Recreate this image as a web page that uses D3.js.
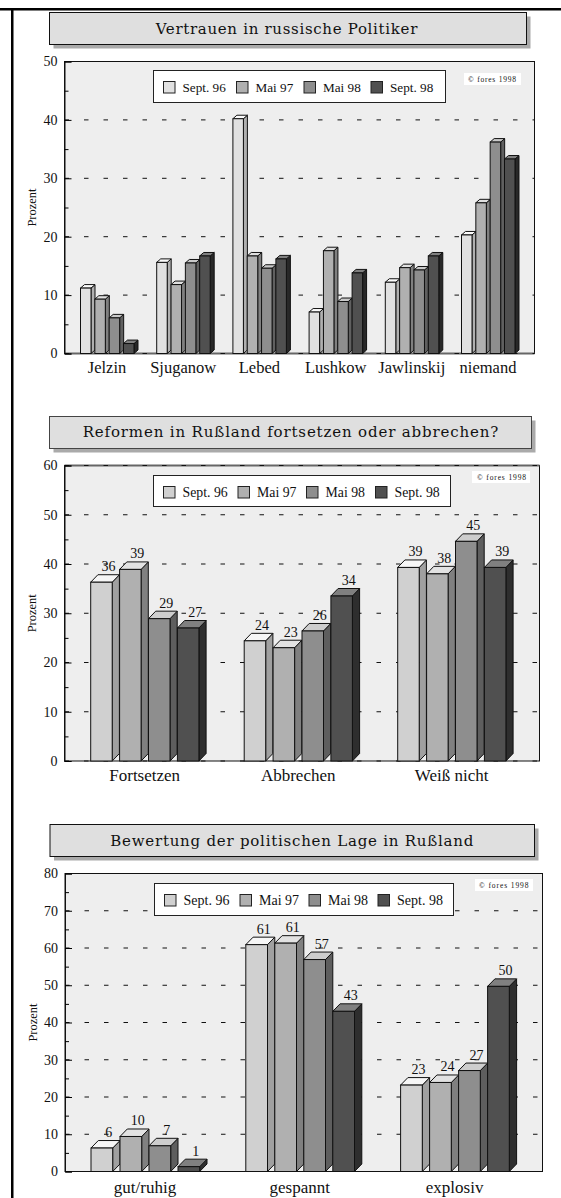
<!DOCTYPE html>
<html>
<head>
<meta charset="utf-8">
<script src="https://cdn.jsdelivr.net/npm/d3@7"></script>
<style>
    body { margin: 0; background: #fff; }
    svg { display: block; }
    text { font-family: "Liberation Serif", serif; fill: #111; }
</style>
</head>
<body>
<svg id="chart"></svg>
<script>
const seriesNames = ["Sept. 96", "Mai 97", "Mai 98", "Sept. 98"];

// Vertrauen in russische Politiker
const vertrauenCategories = ["Jelzin", "Sjuganow", "Lebed", "Lushkow", "Jawlinskij", "niemand"];
const vertrauenValues = [
    [11.2, 9.3, 6.1, 1.7],
    [15.6, 11.8, 15.5, 16.7],
    [40.2, 16.7, 14.6, 16.2],
    [7.1, 17.6, 8.9, 13.8],
    [12.2, 14.7, 14.3, 16.7],
    [20.3, 25.8, 36.2, 33.3]
];
const vertrauenTicks = [0, 10, 20, 30, 40, 50];

// Reformen in Rußland
const reformenCategories = ["Fortsetzen", "Abbrechen", "Weiß nicht"];
const reformenValues = [
    [36.3, 38.9, 28.9, 27.0],
    [24.4, 23.0, 26.4, 33.5],
    [39.3, 38.0, 44.6, 39.3]
];
const reformenLabels = [
    [36, 39, 29, 27],
    [24, 23, 26, 34],
    [39, 38, 45, 39]
];
const reformenTicks = [0, 10, 20, 30, 40, 50, 60];

// Bewertung der politischen Lage
const lageCategories = ["gut/ruhig", "gespannt", "explosiv"];
const lageValues = [
    [6.3, 9.4, 6.9, 1.3],
    [60.9, 61.3, 56.9, 43.0],
    [23.2, 23.9, 27.1, 49.7]
];
const lageLabels = [
    [6, 10, 7, 1],
    [61, 61, 57, 43],
    [23, 24, 27, 50]
];
const lageTicks = [0, 10, 20, 30, 40, 50, 60, 70, 80];

const svg = d3.select("#chart").attr("width", 561).attr("height", 1198);

svg.append("rect").attr("width", 561).attr("height", 1198).attr("fill", "#fff");

// Bar colours: front, top, side
const paletteLight = [
    ["#e1e1e1", "#fcfcfc", "#b0b0b0"],
    ["#b0b0b0", "#e0e0e0", "#808080"],
    ["#8e8e8e", "#cacaca", "#606060"],
    ["#505050", "#808080", "#282828"]
];
const paletteDark = [
    ["#d0d0d0", "#f6f6f6", "#a0a0a0"],
    ["#b0b0b0", "#e2e2e2", "#808080"],
    ["#8e8e8e", "#cdcdcd", "#5e5e5e"],
    ["#505050", "#808080", "#2e2e2e"]
];

function drawPanel(p) {
    const g = svg.append("g");

    // Title box with shadow
    g.append("rect")
        .attr("x", p.title.x0 + 4).attr("y", p.title.y0 + 4)
        .attr("width", p.title.x1 - p.title.x0).attr("height", p.title.y1 - p.title.y0)
        .attr("fill", "#aaa");
    g.append("rect")
        .attr("x", p.title.x0).attr("y", p.title.y0)
        .attr("width", p.title.x1 - p.title.x0).attr("height", p.title.y1 - p.title.y0)
        .attr("fill", "#dfdfdf")
        .attr("stroke", p.title.stroke);
    g.append("text")
        .attr("x", p.title.tx0)
        .attr("y", p.title.base)
        .attr("textLength", p.title.tx1 - p.title.tx0)
        .style("font-family", "'DejaVu Serif', serif")
        .style("font-size", "15px")
        .text(p.title.text);

    const y = d3.scaleLinear()
        .domain(d3.extent(p.ticks))
        .range([p.bottom, p.top]);

    // Plot background
    g.append("rect")
        .attr("x", p.left).attr("y", p.top)
        .attr("width", p.right - p.left).attr("height", p.bottom - p.top)
        .attr("fill", "#eeeeee")
        .attr("stroke", "#111");

    // Heavier grey edge where the scan shows one
    if (p.heavyEdge !== undefined) {
        g.append("line")
            .attr("x1", p.left).attr("x2", p.right)
            .attr("y1", y(p.heavyEdge)).attr("y2", y(p.heavyEdge))
            .attr("stroke", "#666")
            .attr("stroke-width", 2);
    }

    // Dashed gridlines
    g.selectAll(".grid")
        .data(p.ticks)
        .join("line")
        .attr("x1", p.left).attr("x2", p.right)
        .attr("y1", d => y(d)).attr("y2", d => y(d))
        .attr("stroke", "#111")
        .attr("stroke-dasharray", "4.5 15");

    // Y axis, major and minor ticks point inwards
    const yAxis = g.append("g")
        .attr("transform", `translate(${p.left},0)`)
        .call(d3.axisLeft(y).tickValues(p.ticks).tickSize(-7).tickPadding(7));
    yAxis.select(".domain").attr("stroke", "#111");
    yAxis.selectAll("text")
        .style("font-family", "'Liberation Serif', serif")
        .style("font-size", "14px");

    const minor = d3.range(5, d3.max(p.ticks), 10);
    const minorAxis = g.append("g")
        .attr("transform", `translate(${p.left},0)`)
        .call(d3.axisLeft(y).tickValues(minor).tickSize(-4).tickFormat(""));
    minorAxis.select(".domain").remove();

    g.append("text")
        .attr("transform", `translate(${p.yTitleX},${(p.top + p.bottom) / 2}) rotate(-90)`)
        .attr("text-anchor", "middle")
        .style("font-size", "12.5px")
        .text("Prozent");

    // Legend
    g.append("rect")
        .attr("x", p.legend.x0).attr("y", p.legend.y0)
        .attr("width", p.legend.x1 - p.legend.x0).attr("height", p.legend.y1 - p.legend.y0)
        .attr("fill", "#fff")
        .attr("stroke", "#222");
    seriesNames.forEach((name, i) => {
        g.append("rect")
            .attr("x", p.legend.items[i]).attr("y", p.legend.swatchY)
            .attr("width", 11.5).attr("height", 11.5)
            .attr("fill", p.palette[i][0])
            .attr("stroke", "#222");
        g.append("text")
            .attr("x", p.legend.items[i] + 19)
            .attr("y", p.legend.swatchY + 10.5)
            .style("font-size", p.legend.fontSize)
            .text(name);
    });

    // Copyright note
    g.append("rect")
        .attr("x", p.note.x0).attr("y", p.note.y0)
        .attr("width", p.note.x1 - p.note.x0).attr("height", 12)
        .attr("fill", "#fff");
    g.append("text")
        .attr("x", p.note.tx0)
        .attr("y", p.note.y0 + 9)
        .attr("textLength", p.note.tx1 - p.note.tx0)
        .style("font-size", "7.5px")
        .text("© fores 1998");

    // Bars
    const x = d3.scaleBand()
        .domain(p.categories)
        .range([p.groupStart, p.groupStart + p.groupStep * p.categories.length]);
    const xBar = d3.scaleBand()
        .domain(seriesNames)
        .range([0, p.barStep * seriesNames.length]);

    p.categories.forEach((cat, c) => {
        seriesNames.forEach((name, i) => {
            const value = p.values[c][i];
            const x0 = x(cat) + xBar(name);
            const x1 = x0 + p.barWidth;
            const yTop = y(value);
            const yBase = y(0);
            const colors = p.palette[i];

            g.append("path")
                .attr("d", `M${x1},${yBase}L${x1 + p.depth},${yBase - p.rise}L${x1 + p.depth},${yTop - p.rise}L${x1},${yTop}Z`)
                .attr("fill", colors[2])
                .attr("stroke", "#111");
            g.append("path")
                .attr("d", `M${x0},${yTop}L${x0 + p.depth},${yTop - p.rise}L${x1 + p.depth},${yTop - p.rise}L${x1},${yTop}Z`)
                .attr("fill", colors[1])
                .attr("stroke", "#111");
            g.append("rect")
                .attr("x", x0).attr("y", yTop)
                .attr("width", p.barWidth).attr("height", yBase - yTop)
                .attr("fill", colors[0])
                .attr("stroke", "#111");

            if (p.labels) {
                g.append("text")
                    .attr("x", x0 + p.barWidth / 2 + 7)
                    .attr("y", yTop - 11)
                    .attr("text-anchor", "middle")
                    .style("font-size", "14px")
                    .text(p.labels[c][i]);
            }
        });

        g.append("text")
            .attr("x", x(cat) + p.catOffset)
            .attr("y", p.catBase)
            .attr("text-anchor", "middle")
            .style("font-size", p.catSize)
            .text(cat);
    });
}

drawPanel({
    title: { text: "Vertrauen in russische Politiker", x0: 49.5, x1: 526.5, y0: 12.5, y1: 44.5, tx0: 155.7, tx1: 417.3, base: 34, stroke: "#111" },
    categories: vertrauenCategories, values: vertrauenValues, ticks: vertrauenTicks,
    palette: paletteLight, heavyEdge: 0,
    left: 64.5, right: 534.5, top: 61.5, bottom: 353.5,
    yTitleX: 36,
    legend: { x0: 153.5, x1: 445.5, y0: 70.5, y1: 102.5, swatchY: 81.5, items: [163.5, 236.5, 304, 371], fontSize: "13.2px" },
    note: { x0: 464, x1: 521, y0: 73, tx0: 468, tx1: 516 },
    groupStart: 80.5, groupStep: 76.2, barStep: 14.33, barWidth: 10.5, depth: 4, rise: 3.5,
    catOffset: 26.5, catBase: 373, catSize: "16.5px"
});

drawPanel({
    title: { text: "Reformen in Rußland fortsetzen oder abbrechen?", x0: 49.5, x1: 531.5, y0: 416.5, y1: 448.5, tx0: 82.7, tx1: 498.3, base: 436.5, stroke: "#444" },
    categories: reformenCategories, values: reformenValues, labels: reformenLabels, ticks: reformenTicks,
    palette: paletteDark, heavyEdge: 60,
    left: 64.5, right: 539.5, top: 465.5, bottom: 761,
    yTitleX: 36,
    legend: { x0: 153.5, x1: 450.5, y0: 475.5, y1: 506.5, swatchY: 486.5, items: [163.5, 238, 306.5, 375.5], fontSize: "13.8px" },
    note: { x0: 472, x1: 530, y0: 471, tx0: 477, tx1: 526 },
    groupStart: 90.7, groupStep: 153.5, barStep: 28.9, barWidth: 21.5, depth: 7.2, rise: 7.5,
    catOffset: 54, catBase: 781, catSize: "17px"
});

drawPanel({
    title: { text: "Bewertung der politischen Lage in Rußland", x0: 50, x1: 534.5, y0: 824.5, y1: 856.5, tx0: 110.3, tx1: 473.3, base: 846, stroke: "#111" },
    categories: lageCategories, values: lageValues, labels: lageLabels, ticks: lageTicks,
    palette: paletteDark,
    left: 65, right: 542.5, top: 873.5, bottom: 1171.5,
    yTitleX: 36.5,
    legend: { x0: 154.5, x1: 453.5, y0: 883.5, y1: 915.5, swatchY: 894.5, items: [164.5, 240, 309, 378], fontSize: "14px" },
    note: { x0: 475, x1: 533, y0: 879, tx0: 479, tx1: 528.5 },
    groupStart: 91, groupStep: 154.8, barStep: 29, barWidth: 21.7, depth: 7.3, rise: 7.5,
    catOffset: 54, catBase: 1192.5, catSize: "17px"
});

// Page frame, top and left only
svg.append("rect").attr("x", 0).attr("y", 8).attr("width", 561).attr("height", 2.5).attr("fill", "#000");
svg.append("rect").attr("x", 11).attr("y", 8).attr("width", 2.5).attr("height", 1190).attr("fill", "#000");
</script>
</body>
</html>
